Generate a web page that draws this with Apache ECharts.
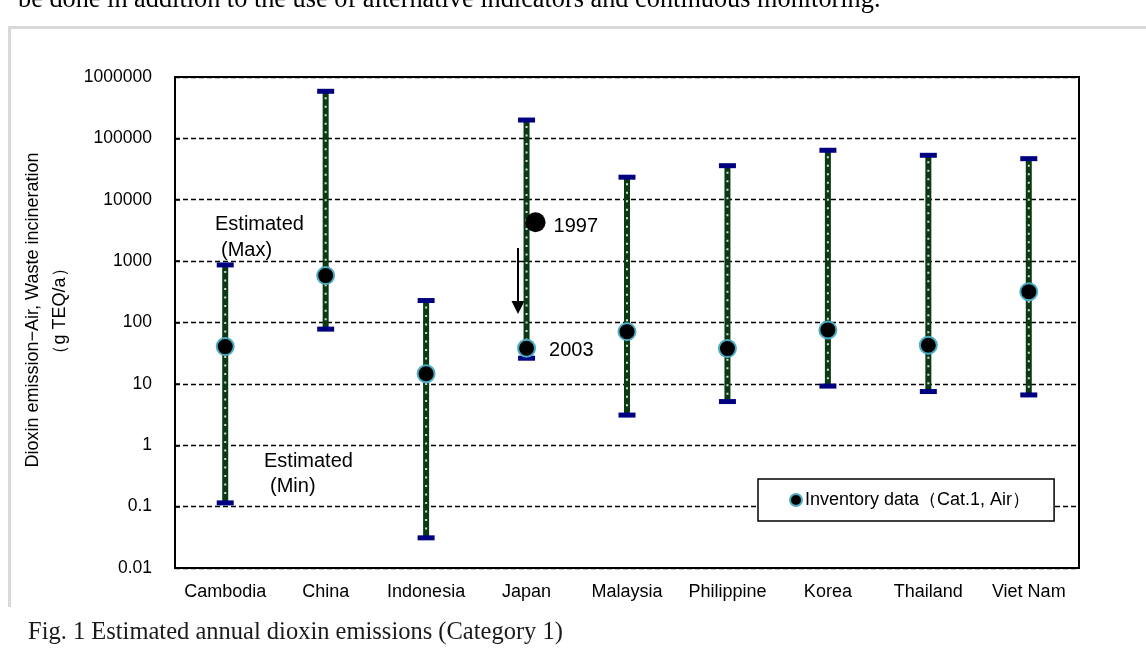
<!DOCTYPE html>
<html><head><meta charset="utf-8">
<script src="https://cdn.jsdelivr.net/npm/echarts@6/dist/echarts.min.js"></script>
<style>html,body{margin:0;padding:0;background:#fff}#c{width:1146px;height:653px}</style>
</head><body><div id="c"></div>
<script>
// ---- data ----
const categories = ['Cambodia', 'China', 'Indonesia', 'Japan', 'Malaysia', 'Philippine', 'Korea', 'Thailand', 'Viet Nam'];
const estimatedMax = [867, 585000, 228, 199000, 23300, 35900, 64000, 53000, 46700];
const estimatedMin = [0.115, 78, 0.031, 26.2, 3.1, 5.15, 9.2, 7.5, 6.6];
const inventoryData = [40.5, 581, 14.6, 38, 71, 37.6, 75.7, 42.7, 318];
const japanYears = ['1997', '2003'];
const japan1997Value = 4300;
const yTickLabels = ['0.01', '0.1', '1', '10', '100', '1000', '10000', '100000', '1000000'];
const legendName = 'Inventory data（Cat.1, Air）';

const SANS = '"Liberation Sans", Arial, sans-serif';
const SERIF = '"Liberation Serif", "Times New Roman", serif';

const chart = echarts.init(document.getElementById('c'));

function renderErrorBar(params, api) {
  const i = api.value(0);
  const top = api.coord([i, api.value(1)]);
  const bot = api.coord([i, api.value(2)]);
  const x = top[0];
  return {
    type: 'group',
    children: [
      { type: 'rect', shape: { x: x - 3, y: top[1], width: 6, height: bot[1] - top[1] }, style: { fill: '#0b3a12' } },
      { type: 'line', shape: { x1: x, y1: top[1] + 6, x2: x, y2: bot[1] - 3 }, style: { stroke: '#d3dcd3', lineWidth: 2, lineDash: [2, 6.5] } },
      { type: 'rect', shape: { x: x - 8.5, y: top[1] - 2.5, width: 17, height: 5 }, style: { fill: '#000080' } },
      { type: 'rect', shape: { x: x - 8.5, y: bot[1] - 2.5, width: 17, height: 5 }, style: { fill: '#000080' } }
    ]
  };
}

const invSeriesData = inventoryData.map((v, i) => {
  if (categories[i] === 'Japan') {
    return {
      value: [categories[i], v],
      label: { show: true, position: 'right', distance: 13, offset: [0, 2], formatter: japanYears[1], fontFamily: SANS, fontSize: 20, color: '#000' }
    };
  }
  return [categories[i], v];
});

const option = {
  animation: false,
  backgroundColor: '#fff',
  grid: { left: 175, top: 77, width: 904, height: 491, show: true, borderColor: '#000', borderWidth: 2, backgroundColor: 'transparent' },
  legend: {
    data: [legendName],
    left: 758, top: 479,
    padding: [12, 24, 12, 31],
    backgroundColor: '#fff',
    borderColor: '#000', borderWidth: 1.5,
    itemWidth: 12, itemHeight: 12, itemGap: 0,
    textStyle: { fontFamily: SANS, fontSize: 18, color: '#000', padding: [2, 0, 0, -2] }
  },
  xAxis: {
    type: 'category',
    data: categories,
    boundaryGap: true,
    axisLine: { lineStyle: { color: '#000', width: 2 } },
    axisTick: { inside: true, length: 6, interval: 0, lineStyle: { color: '#000', width: 1.5 } },
    axisLabel: { interval: 0, margin: 15, fontFamily: SANS, fontSize: 18, color: '#000' },
    splitLine: { show: false }
  },
  yAxis: {
    type: 'log',
    logBase: 10,
    min: 0.01, max: 1000000,
    interval: 1,
    axisLine: { show: true, lineStyle: { color: '#000', width: 2 } },
    axisTick: { show: true, inside: true, length: 5, lineStyle: { color: '#000', width: 1.5 } },
    axisLabel: {
      margin: 23, fontFamily: SANS, fontSize: 17.5, color: '#000',
      formatter: function (v) { const k = Math.round(Math.log10(v)); return yTickLabels[k + 2]; }
    },
    splitLine: { show: true, lineStyle: { color: '#000', width: 1.3, type: [5, 3] } },
    minorTick: { show: false }, minorSplitLine: { show: false }
  },
  series: [
    {
      name: 'Estimated range',
      type: 'custom',
      renderItem: renderErrorBar,
      encode: { x: 0, y: [1, 2] },
      data: categories.map((c, i) => [i, estimatedMax[i], estimatedMin[i]]),
      clip: false,
      z: 2
    },
    {
      name: legendName,
      type: 'scatter',
      symbol: 'circle',
      symbolSize: 17,
      itemStyle: { color: '#000', borderColor: '#4bacc6', borderWidth: 2, opacity: 1 },
      data: invSeriesData,
      z: 4
    },
    {
      name: 'Japan 1997',
      type: 'scatter',
      symbol: 'circle',
      symbolSize: 20,
      symbolOffset: [9, 0],
      itemStyle: { color: '#000', opacity: 1 },
      label: { show: true, position: 'right', distance: 8, offset: [0, 4], formatter: japanYears[0], fontFamily: SANS, fontSize: 20, color: '#000' },
      data: [['Japan', japan1997Value]],
      z: 4
    }
  ],
  graphic: [
    { type: 'polyline', shape: { points: [[9.5, 607], [9.5, 27.5], [1146, 27.5]] }, style: { stroke: '#d9d9d9', lineWidth: 3, fill: null }, silent: true },
    { type: 'text', x: 18, y: 13, style: { text: 'be done in addition to the use of alternative indicators and continuous monitoring.', font: '26.3px ' + SERIF, fill: '#000', textVerticalAlign: 'bottom', textAlign: 'left' } },
    { type: 'text', x: 28, y: 633, style: { text: 'Fig. 1 Estimated annual dioxin emissions (Category 1)', font: '24.5px ' + SERIF, fill: '#1a1a1a', textVerticalAlign: 'middle', textAlign: 'left' } },
    { type: 'text', x: 33, y: 310, rotation: Math.PI / 2, style: { text: 'Dioxin emission−Air, Waste incineration', font: '18px ' + SANS, fill: '#000', textAlign: 'center', textVerticalAlign: 'middle' } },
    { type: 'text', x: 60, y: 311, rotation: Math.PI / 2, style: { text: '（g TEQ/a）', font: '18px ' + SANS, fill: '#000', textAlign: 'center', textVerticalAlign: 'middle' } },
    { type: 'text', x: 215, y: 224, style: { text: 'Estimated', font: '20px ' + SANS, fill: '#000', textVerticalAlign: 'middle' } },
    { type: 'text', x: 221, y: 250, style: { text: '(Max)', font: '20px ' + SANS, fill: '#000', textVerticalAlign: 'middle' } },
    { type: 'text', x: 264, y: 461, style: { text: 'Estimated', font: '20px ' + SANS, fill: '#000', textVerticalAlign: 'middle' } },
    { type: 'text', x: 270, y: 486, style: { text: '(Min)', font: '20px ' + SANS, fill: '#000', textVerticalAlign: 'middle' } },
    { type: 'line', shape: { x1: 518, y1: 248, x2: 518, y2: 303 }, style: { stroke: '#000', lineWidth: 2 } },
    { type: 'polygon', shape: { points: [[511.5, 301], [524.5, 301], [518, 314]] }, style: { fill: '#000' } }
  ]
};
chart.setOption(option);
</script>
</body></html>
